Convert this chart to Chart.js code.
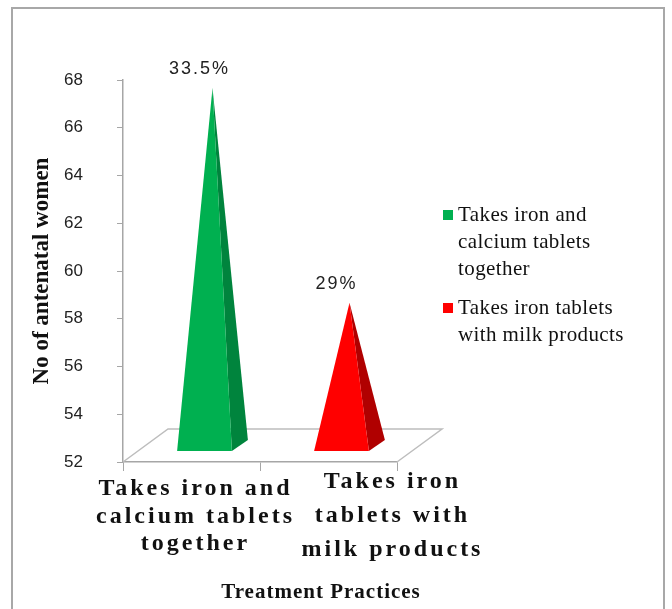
<!DOCTYPE html>
<html>
<head>
<meta charset="utf-8">
<script src="https://cdn.jsdelivr.net/npm/chart.js@4.4.0/dist/chart.umd.min.js"></script>
<style>
	html, body { margin: 0; padding: 0; background: #fff; }
	#wrap { position: relative; width: 672px; height: 609px; overflow: hidden; }
	#frame { position: absolute; left: 11px; top: 7px; width: 654px; height: 620px; border: 2px solid #a8a8a8; box-sizing: border-box; }
	canvas { position: absolute; left: 0; top: 0; }
	#legend { position: absolute; left: 443px; top: 201px; font-family: "Liberation Serif", serif; font-size: 21px; letter-spacing: 0.4px; color: #111; line-height: 27px; white-space: nowrap; }
	.item { display: flex; align-items: flex-start; margin-bottom: 12px; }
	.box { width: 10px; height: 10px; margin: 9px 5px 0 0; flex: none; }
</style>
</head>
<body>
<div id="wrap">
	<div id="frame"></div>
	<canvas id="chart" width="672" height="609"></canvas>
	<div id="legend"></div>
</div>
<script>
// data
const categories = [
	["Takes iron and", "calcium tablets", "together"],
	["Takes iron", "tablets with", "milk products"]
];
const legendLabels = [
	["Takes iron and", "calcium tablets", "together"],
	["Takes iron tablets", "with milk products"]
];
const womenCounts = [67, 58];
const percentLabels = ["33.5%", "29%"];
const yMin = 52;
const yMax = 68;
const yStep = 2;

const frontColors = ["#00b050", "#ff0000"];
const sideColors = ["#00843d", "#b00000"];

const serif = '"Liberation Serif", "Times New Roman", serif';

// legend as html
const legendEl = document.getElementById("legend");
legendLabels.forEach(function (lines, i) {
	const item = document.createElement("div");
	item.className = "item";
	const box = document.createElement("div");
	box.className = "box";
	box.style.background = frontColors[i];
	const txt = document.createElement("div");
	txt.innerHTML = lines.join("<br>");
	item.appendChild(box);
	item.appendChild(txt);
	legendEl.appendChild(item);
});

// floor of the 3d plot area
const floorPlugin = {
	id: "floor",
	beforeDatasetsDraw(chart) {
		const a = chart.chartArea;
		const ctx = chart.ctx;
		ctx.save();
		ctx.strokeStyle = "#bdbdbd";
		ctx.lineWidth = 1.5;
		ctx.beginPath();
		ctx.moveTo(a.left, a.bottom);
		ctx.lineTo(a.left + 45, a.bottom - 33);
		ctx.lineTo(a.right + 45, a.bottom - 33);
		ctx.lineTo(a.right, a.bottom);
		ctx.stroke();
		ctx.restore();
	}
};

// pyramids drawn from the bar elements
const pyramidPlugin = {
	id: "pyramids",
	afterDatasetsDraw(chart) {
		const ctx = chart.ctx;
		const meta = chart.getDatasetMeta(0);
		const basePx = chart.scales.y.getPixelForValue(yMin);
		ctx.save();
		meta.data.forEach(function (bar, i) {
			const hw = bar.width / 2;
			const cx = bar.x + 21;
			const by = basePx - 16.5;
			const ax = cx, ay = bar.y - 16;
			const fl = [cx - 8 - hw, by + 5.5];
			const fr = [cx - 8 + hw, by + 5.5];
			const br = [cx + 8 + hw, by - 5.5];

			// side face
			ctx.fillStyle = sideColors[i];
			ctx.beginPath();
			ctx.moveTo(fr[0], fr[1]);
			ctx.lineTo(br[0], br[1]);
			ctx.lineTo(ax, ay);
			ctx.closePath();
			ctx.fill();

			// front face
			ctx.fillStyle = frontColors[i];
			ctx.beginPath();
			ctx.moveTo(fl[0], fl[1]);
			ctx.lineTo(fr[0], fr[1]);
			ctx.lineTo(ax, ay);
			ctx.closePath();
			ctx.fill();

			// percentage label
			ctx.fillStyle = "#222";
			ctx.font = '18px "Liberation Sans", Arial, sans-serif';
			if ("letterSpacing" in ctx) ctx.letterSpacing = "2px";
			ctx.textAlign = "center";
			ctx.textBaseline = "bottom";
			ctx.fillText(percentLabels[i], bar.x + 8, ay - 10);
		});
		ctx.restore();
	}
};

// category labels and x title
const labelPlugin = {
	id: "xlabels",
	afterDraw(chart) {
		const ctx = chart.ctx;
		const xs = chart.scales.x;
		const shifts = [4, 64];
		const firstLine = [489, 482];
		const lineGap = [27.5, 34];
		ctx.save();
		ctx.fillStyle = "#111";
		ctx.font = 'bold 24px ' + serif;
		ctx.textAlign = "center";
		ctx.textBaseline = "middle";
		if ("letterSpacing" in ctx) ctx.letterSpacing = "3px";
		categories.forEach(function (lines, i) {
			const x = xs.getPixelForValue(i) + shifts[i];
			lines.forEach(function (line, j) {
				ctx.fillText(line, x, firstLine[i] + j * lineGap[i]);
			});
		});
		if ("letterSpacing" in ctx) ctx.letterSpacing = "1px";
		ctx.font = 'bold 21px ' + serif;
		ctx.fillText("Treatment Practices", 321, 593);
		ctx.restore();
	}
};

new Chart(document.getElementById("chart"), {
	type: "bar",
	data: {
		labels: categories,
		datasets: [{
			label: "No of antenatal women",
			data: womenCounts,
			backgroundColor: "rgba(0,0,0,0)",
			borderWidth: 0,
			categoryPercentage: 1,
			barPercentage: 0.4
		}]
	},
	options: {
		responsive: false,
		animation: false,
		events: [],
		layout: { padding: { left: 28, right: 275, top: 80, bottom: 0 } },
		plugins: {
			legend: { display: false },
			tooltip: { enabled: false }
		},
		scales: {
			x: {
				grid: { drawOnChartArea: false, offset: true, tickLength: 9, color: "#a6a6a6" },
				border: { color: "#a6a6a6", width: 1.5 },
				ticks: { display: false },
				afterFit: function (scale) { scale.height = 147; }
			},
			y: {
				min: yMin,
				max: yMax,
				grid: { drawOnChartArea: false, tickLength: 6, color: "#a6a6a6" },
				border: { color: "#a6a6a6", width: 1.5 },
				ticks: {
					stepSize: yStep,
					padding: 34,
					color: "#222",
					font: { family: '"Liberation Sans", Arial, sans-serif', size: 17 }
				},
				title: {
					display: true,
					text: "No of antenatal women",
					color: "#111",
					font: { family: serif, size: 23, weight: "bold" },
					padding: { top: 0, bottom: 0 }
				},
				afterFit: function (scale) { scale.width = 95; }
			}
		}
	},
	plugins: [floorPlugin, pyramidPlugin, labelPlugin]
});
</script>
</body>
</html>
